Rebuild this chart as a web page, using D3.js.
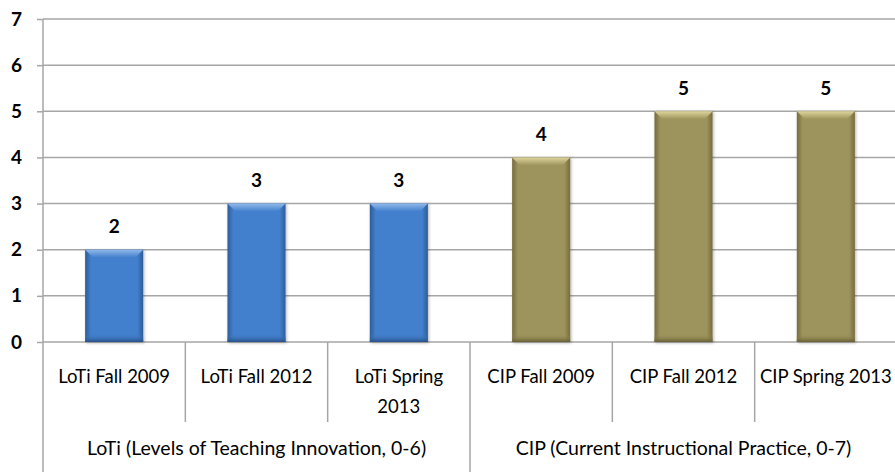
<!DOCTYPE html>
<html>
<head>
<meta charset="utf-8">
<script src="https://cdn.jsdelivr.net/npm/d3@7"></script>
<style>
  body { margin: 0; background: #fff; }
  text { font-family: Lato, "Open Sans", sans-serif; fill: #000; }
</style>
</head>
<body>
<svg id="chart"></svg>
<script>
// data
const categories = ["LoTi Fall 2009", "LoTi Fall 2012", "LoTi Spring 2013", "CIP Fall 2009", "CIP Fall 2012", "CIP Spring 2013"];
const categoryLines = [["LoTi Fall 2009"], ["LoTi Fall 2012"], ["LoTi Spring", "2013"], ["CIP Fall 2009"], ["CIP Fall 2012"], ["CIP Spring 2013"]];
const values = [2, 3, 3, 4, 5, 5];
const barSeries = ["loti", "loti", "loti", "cip", "cip", "cip"];
const groupLabels = ["LoTi (Levels of Teaching Innovation, 0-6)", "CIP (Current Instructional Practice, 0-7)"];
const groupSizes = [3, 3];
const yTicks = [0, 1, 2, 3, 4, 5, 6, 7];

const width = 895, height = 472;
const plotLeft = 43, plotRight = 897, plotTop = 19, plotBottom = 342;

const svg = d3.select('#chart').attr('width', width).attr('height', height);

const xCat = d3.scaleBand().domain(categories).range([plotLeft, plotRight]);
const x = d3.scaleBand().domain(categories).range([plotLeft, plotRight])
  .paddingInner(0.592).paddingOuter(0.296);
const y = d3.scaleLinear().domain([0, 7]).range([plotBottom, plotTop]);

// gradients for the bevelled bars
const defs = svg.append('defs');
const palettes = {
  loti: { edge: '#2d5c98', mid: '#427fcc', light: '#8fb8ea', dark: '#274f85' },
  cip:  { edge: '#766c3e', mid: '#9d935b', light: '#ddd49c', dark: '#675e35' }
};
Object.keys(palettes).forEach(function(k) {
  var p = palettes[k];
  var g = defs.append('linearGradient').attr('id', 'body-' + k)
    .attr('x1', 0).attr('x2', 1).attr('y1', 0).attr('y2', 0);
  g.append('stop').attr('offset', '0').attr('stop-color', p.edge);
  g.append('stop').attr('offset', '0.1').attr('stop-color', p.mid);
  g.append('stop').attr('offset', '0.9').attr('stop-color', p.mid);
  g.append('stop').attr('offset', '1').attr('stop-color', p.edge);
  var t = defs.append('linearGradient').attr('id', 'top-' + k)
    .attr('x1', 0).attr('x2', 0).attr('y1', 0).attr('y2', 1);
  t.append('stop').attr('offset', '0').attr('stop-color', p.light);
  t.append('stop').attr('offset', '1').attr('stop-color', p.mid);
  var b = defs.append('linearGradient').attr('id', 'bot-' + k)
    .attr('x1', 0).attr('x2', 0).attr('y1', 0).attr('y2', 1);
  b.append('stop').attr('offset', '0').attr('stop-color', p.mid).attr('stop-opacity', 0);
  b.append('stop').attr('offset', '1').attr('stop-color', p.dark);
});
defs.append('filter').attr('id', 'shadow')
  .append('feDropShadow').attr('dx', 1).attr('dy', 1).attr('stdDeviation', 1.5)
  .attr('flood-color', '#000').attr('flood-opacity', 0.3);

// gridlines
svg.selectAll('.grid').data(yTicks).enter()
  .append('line')
  .attr('class', 'grid')
  .attr('x1', plotLeft).attr('x2', width)
  .attr('y1', function(d) { return y(d) }).attr('y2', function(d) { return y(d) })
  .attr('stroke', '#a6a6a6').attr('stroke-width', 1.5);

// y axis
const yAxis = svg.append('g')
  .attr('transform', `translate(${plotLeft},0)`)
  .call(d3.axisLeft(y).tickValues(yTicks).tickSize(6).tickPadding(15).tickFormat(d3.format('d')));
yAxis.select('.domain').remove();
yAxis.selectAll('.tick line').attr('stroke', '#a6a6a6').attr('stroke-width', 1.5);
yAxis.selectAll('.tick text')
  .attr('font-family', 'Lato, "Open Sans", sans-serif')
  .attr('font-size', 19).attr('font-weight', 'bold').attr('fill', '#000');
svg.append('line')
  .attr('x1', plotLeft).attr('x2', plotLeft).attr('y1', plotTop).attr('y2', height)
  .attr('stroke', '#a6a6a6').attr('stroke-width', 1.5);

// bars
const data = categories.map(function(c, i) { return { cat: c, value: values[i], series: barSeries[i] } });
const bars = svg.selectAll('.bar').data(data).enter()
  .append('g').attr('class', 'bar').attr('filter', 'url(#shadow)');
bars.append('rect')
  .attr('x', function(d) { return x(d.cat) })
  .attr('y', function(d) { return y(d.value) })
  .attr('width', x.bandwidth())
  .attr('height', function(d) { return y(0) - y(d.value) })
  .attr('fill', function(d) { return `url(#body-${d.series})` });
bars.append('rect')
  .attr('x', function(d) { return x(d.cat) })
  .attr('y', function(d) { return y(0) - 8 })
  .attr('width', x.bandwidth())
  .attr('height', 8)
  .attr('fill', function(d) { return `url(#bot-${d.series})` });
bars.append('path')
  .attr('d', function(d) {
    var x0 = x(d.cat), x1 = x0 + x.bandwidth(), y0 = y(d.value), b = 8;
    return `M${x0},${y0} L${x1},${y0} L${x1 - b},${y0 + b} L${x0 + b},${y0 + b} Z`;
  })
  .attr('fill', function(d) { return `url(#top-${d.series})` });

// value labels
svg.selectAll('.value').data(data).enter()
  .append('text')
  .attr('class', 'value')
  .attr('x', function(d) { return x(d.cat) + x.bandwidth() / 2 })
  .attr('y', function(d) { return y(d.value) - 23 })
  .attr('dy', '0.35em')
  .attr('text-anchor', 'middle')
  .attr('font-size', 19).attr('font-weight', 'bold')
  .text(function(d) { return d.value });

// category dividers (short) and group dividers (long)
const groupEdges = [0];
groupSizes.forEach(function(s, i) { groupEdges.push(groupEdges[i] + s) });
svg.selectAll('.catdiv').data(d3.range(1, categories.length)).enter()
  .append('line')
  .attr('class', 'catdiv')
  .attr('x1', function(i) { return xCat(categories[i]) })
  .attr('x2', function(i) { return xCat(categories[i]) })
  .attr('y1', plotBottom)
  .attr('y2', function(i) { return groupEdges.indexOf(i) >= 0 ? height : 422 })
  .attr('stroke', '#a6a6a6').attr('stroke-width', 1.5);

// category labels
svg.selectAll('.catlabel').data(categories).enter()
  .append('text')
  .attr('class', 'catlabel')
  .attr('x', function(d) { return xCat(d) + xCat.bandwidth() / 2 })
  .attr('y', 377)
  .attr('text-anchor', 'middle')
  .attr('font-size', 18.5)
  .each(function(d, i) {
    var t = d3.select(this);
    categoryLines[i].forEach(function(line, j) {
      t.append('tspan')
        .attr('x', xCat(d) + xCat.bandwidth() / 2)
        .attr('dy', j === 0 ? '0.35em' : 30)
        .text(line);
    });
  });

// group labels
svg.selectAll('.grouplabel').data(groupLabels).enter()
  .append('text')
  .attr('class', 'grouplabel')
  .attr('x', function(d, i) {
    var a = xCat(categories[groupEdges[i]]);
    var b = xCat(categories[groupEdges[i + 1] - 1]) + xCat.bandwidth();
    return (a + b) / 2;
  })
  .attr('y', 448)
  .attr('dy', '0.35em')
  .attr('text-anchor', 'middle')
  .attr('font-size', 19.5)
  .text(function(d) { return d });
</script>
</body>
</html>
